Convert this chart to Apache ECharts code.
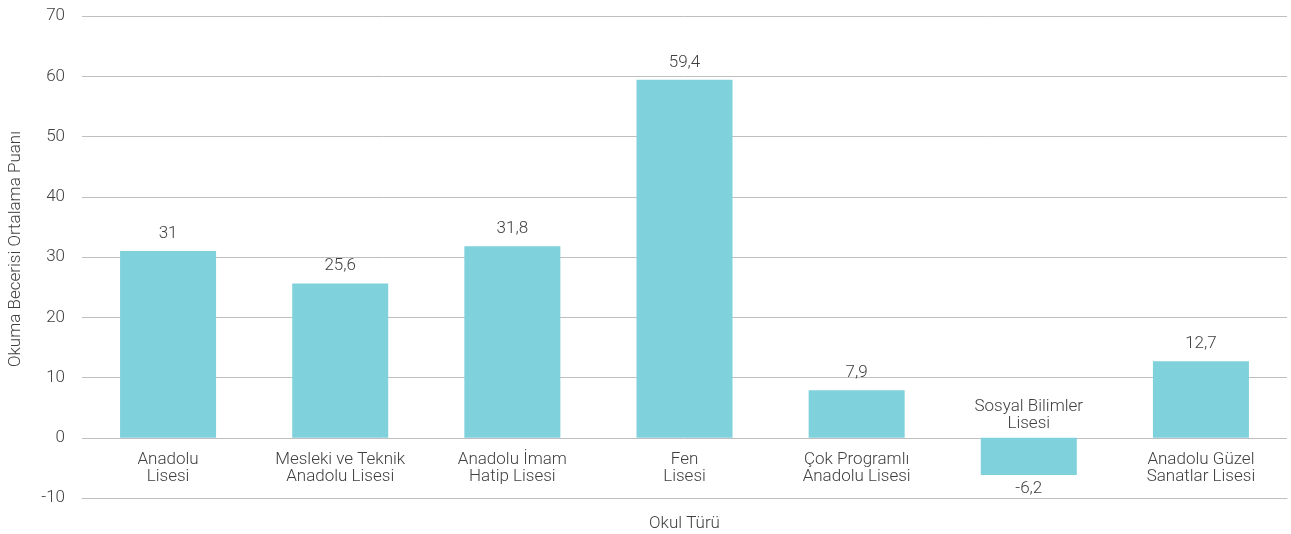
<!DOCTYPE html>
<html><head><meta charset="utf-8">
<script src="https://cdn.jsdelivr.net/npm/echarts@6/dist/echarts.min.js"></script>
<style>html,body{margin:0;padding:0;background:#fff}#c{width:1291px;height:534px}</style>
</head><body><div id="c"></div>
<script>
const categories = ['Anadolu\nLisesi', 'Mesleki ve Teknik\nAnadolu Lisesi', 'Anadolu İmam\nHatip Lisesi', 'Fen\nLisesi', 'Çok Programlı\nAnadolu Lisesi', 'Sosyal Bilimler\nLisesi', 'Anadolu Güzel\nSanatlar Lisesi'];
const values = [31, 25.6, 31.8, 59.4, 7.9, -6.2, 12.7];
const yTitle = 'Okuma Becerisi Ortalama Puanı';
const xTitle = 'Okul Türü';

const FONT = 'Roboto';
const TXT = '#404040';
const chart = echarts.init(document.getElementById('c'), null, {renderer: 'canvas'});
chart.setOption({
  animation: false,
  grid: {left: 82, right: 4, top: 16, bottom: 36, containLabel: false, outerBoundsMode: 'none'},
  xAxis: {
    type: 'category',
    data: categories.map((c, i) => values[i] < 0
      ? {value: c, textStyle: {verticalAlign: 'bottom', padding: [0, 0, 19, 0]}}
      : c),
    name: xTitle, nameLocation: 'middle', nameGap: 17,
    nameTextStyle: {fontFamily: FONT, fontSize: 17, color: TXT, fontWeight: 300},
    axisLine: {onZero: false, lineStyle: {color: '#bfbfbf', width: 1}},
    axisTick: {show: false},
    axisLabel: {fontFamily: FONT, fontSize: 17, color: TXT, lineHeight: 17, margin: -47, interval: 0, fontWeight: 300}
  },
  yAxis: {
    type: 'value', min: -10, max: 70, interval: 10,
    name: yTitle, nameLocation: 'middle', nameGap: 58,
    nameTextStyle: {fontFamily: FONT, fontSize: 17, color: TXT, fontWeight: 300, padding: [0, 0, 0, 16]},
    axisLine: {show: false}, axisTick: {show: false},
    axisLabel: {fontFamily: FONT, fontSize: 17, color: TXT, margin: 17, fontWeight: 300},
    splitLine: {lineStyle: {color: '#bfbfbf', width: 1}}
  },
  series: [{
    type: 'bar', barWidth: 96,
    itemStyle: {color: '#7fd1dc'},
    data: values.map(v => ({value: v, label: {position: v < 0 ? 'bottom' : 'top', distance: v < 0 ? 5 : 9}})),
    label: {
      show: true, fontFamily: FONT, fontSize: 17, color: TXT, fontWeight: 300,
      formatter: p => String(p.value).replace('.', ',')
    }
  }]
});
</script></body></html>
